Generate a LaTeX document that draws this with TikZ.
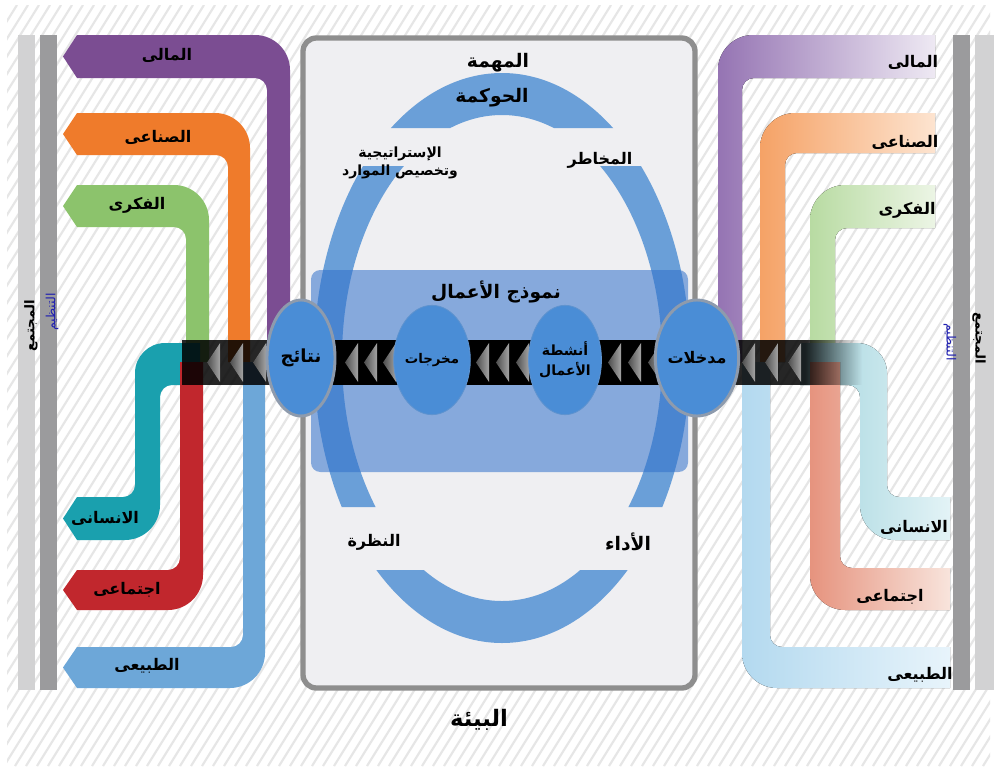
\documentclass[tikz,border=0pt]{standalone}
\usepackage{fontspec}
\setmainfont{DejaVu Sans}
\newfontfamily\arabicfont[Script=Arabic]{DejaVu Sans}
\TeXXeTstate=1
\usetikzlibrary{shapes.geometric,fadings}

% palette
\definecolor{cPurple}{HTML}{7B4D92}
\definecolor{cOrange}{HTML}{EF7B2B}
\definecolor{cGreen}{HTML}{8CC36C}
\definecolor{cTeal}{HTML}{1AA0AE}
\definecolor{cRed}{HTML}{C1272D}
\definecolor{cLBlue}{HTML}{6DA7D8}
\definecolor{rPurpleA}{HTML}{9574B3}
\definecolor{rPurpleB}{HTML}{EEE9F3}
\definecolor{rOrangeA}{HTML}{F5A266}
\definecolor{rOrangeB}{HTML}{FDE4D0}
\definecolor{rGreenA}{HTML}{B8DBA2}
\definecolor{rGreenB}{HTML}{ECF5E5}
\definecolor{rTealA}{HTML}{A3D5DE}
\definecolor{rTealB}{HTML}{E3F3F6}
\definecolor{rSalmonA}{HTML}{E6937E}
\definecolor{rSalmonB}{HTML}{F8E4DC}
\definecolor{rBlueA}{HTML}{B3D9EF}
\definecolor{rBlueB}{HTML}{E8F4FB}
\definecolor{barLight}{HTML}{D2D2D3}
\definecolor{barDark}{HTML}{9B9B9D}
\definecolor{hatchGray}{HTML}{E6E6E6}
\definecolor{boxFill}{HTML}{EFEFF2}
\definecolor{boxEdge}{HTML}{8E8E8E}
\definecolor{cRing}{HTML}{6A9FD8}
\definecolor{cBM}{HTML}{3070CB}
\definecolor{cEll}{HTML}{4A8DD6}
\definecolor{cHalo}{HTML}{8E9BAD}
\definecolor{cEllEdge}{HTML}{5F93CF}
\definecolor{chevDark}{HTML}{4E4E4E}
\definecolor{chevLight}{HTML}{A4A4A4}
\definecolor{orgBlue}{HTML}{2020B0}

\newcommand\RL[1]{\beginR #1\endR}

% ribbon shapes (pixel coordinates, y downwards)
% left-top: tip x, top y, bottom y, vertical left x, vertical right x, end y
\newcommand\ribLT[7]{%
  \fill[#1] (#2,{(#3+#4)/2}) -- ({#2+14},#3) -- ({#6-35},#3)
    .. controls ({#6-15.75},#3) and (#6,{#3+15.75}) .. (#6,{#3+35})
    -- (#6,#7) -- (#5,#7) -- (#5,{#4+12})
    .. controls (#5,{#4+5.4}) and ({#5-5.4},#4) .. ({#5-12},#4)
    -- ({#2+14},#4) -- cycle;}
% left-bottom: tip x, top y, bottom y, vertical left x, vertical right x, start y
\newcommand\ribLB[7]{%
  \fill[#1] (#2,{(#3+#4)/2}) -- ({#2+14},#3) -- ({#5-12},#3)
    .. controls ({#5-5.4},#3) and (#5,{#3-5.4}) .. (#5,{#3-12})
    -- (#5,#7) -- (#6,#7) -- (#6,{#4-35})
    .. controls (#6,{#4-15.75}) and ({#6-15.75},#4) .. ({#6-35},#4)
    -- ({#2+14},#4) -- cycle;}
% right-top: top y, bottom y, vertical left x, vertical right x, end y
\newcommand\ribRT[6]{%
  \fill[#1] (935,#2) -- ({#4+35},#2)
    .. controls ({#4+15.75},#2) and (#4,{#2+15.75}) .. (#4,{#2+35})
    -- (#4,#6) -- (#5,#6) -- (#5,{#3+12})
    .. controls (#5,{#3+5.4}) and ({#5+5.4},#3) .. ({#5+12},#3)
    -- (935,#3) -- cycle;}
% right-bottom: top y, bottom y, vertical left x, vertical right x, start y
\newcommand\ribRB[6]{%
  \fill[#1] (#4,#6) -- (#4,{#3-35})
    .. controls (#4,{#3-15.75}) and ({#4+15.75},#3) .. ({#4+35},#3)
    -- (950,#3) -- (950,#2) -- ({#5+12},#2)
    .. controls ({#5+5.4},#2) and (#5,{#2-5.4}) .. (#5,{#2-12})
    -- (#5,#6) -- cycle;}

\tikzset{
  hatch/.style={draw=hatchGray, line width=1.6pt},
  lbl/.style={font=\arabicfont\bfseries\fontsize{12}{14}\selectfont, inner sep=0pt, text=black},
  ctr/.style={font=\arabicfont\bfseries\fontsize{13}{15}\selectfont, inner sep=0pt, text=black},
  band/.style={fill=black},
  chev/.style={left color=chevDark, right color=chevLight},
  io/.style={ellipse, fill=cEll, draw=cHalo, line width=2.2pt, inner sep=0pt,
    minimum width=51pt, minimum height=87pt},
  act/.style={ellipse, fill=cEll, draw=cEllEdge, line width=0.6pt, inner sep=0pt,
    minimum width=49pt, minimum height=82pt, align=center},
}

\newcommand\chevs[1]{\foreach \b in {#1} {\fill[chev] (\b,343) -- ({\b-13},362.5) -- (\b,382) -- cycle;}}

\begin{document}
\begin{tikzpicture}[x=0.75pt,y=-0.75pt]
\useasboundingbox (0,0) rectangle (994,771);
\fill[white] (0,0) rectangle (994,771);

% striped backdrop
\begin{scope}
  \clip (7,5) rectangle (990,766);
  \foreach \i in {-480,-469,...,990} \draw[hatch] (\i,766) -- ({\i+475},5);
\end{scope}

% society / organisation bars
\fill[barLight] (18,35) rectangle (35,690);
\fill[barDark] (40,35) rectangle (57,690);
\fill[barDark] (953,35) rectangle (970,690);
\fill[barLight] (975,35) rectangle (994,690);

\node[font=\arabicfont\bfseries\fontsize{10}{12}\selectfont, rotate=90, inner sep=0pt] (soc-l) at (31,326) {\RL{المجتمع}};
\node[font=\arabicfont\fontsize{9.5}{11}\selectfont, text=orgBlue, rotate=90, inner sep=0pt] (org-l) at (52,312) {\RL{التنظيم}};
\node[font=\arabicfont\bfseries\fontsize{10}{12}\selectfont, rotate=-90, inner sep=0pt] (soc-r) at (979,338) {\RL{المجتمع}};
\node[font=\arabicfont\fontsize{9.5}{11}\selectfont, text=orgBlue, rotate=-90, inner sep=0pt] (org-r) at (950,342) {\RL{التنظيم}};

% capitals leaving (left)
\ribLT{fill=cPurple}{63}{35}{78}{267}{290}{362}
\ribLT{fill=cOrange}{63}{113}{155}{228}{250}{362}
\ribLT{fill=cGreen}{63}{185}{227}{186}{209}{362}
\fill[cTeal] (200,343) -- (165,343) .. controls (148.5,343) and (135,356.5) .. (135,373)
  -- (135,485) .. controls (135,491.6) and (129.6,497) .. (123,497) -- (77,497)
  -- (63,518.5) -- (77,540) -- (125,540) .. controls (144.25,540) and (160,524.25) .. (160,505)
  -- (160,397) .. controls (160,390.4) and (165.4,385) .. (172,385) -- (200,385) -- cycle;
\ribLB{fill=cRed}{63}{570}{610}{180}{203}{362}
\ribLB{fill=cLBlue}{63}{647}{688}{243}{265}{362}

% capitals entering (right)
\ribRT{left color=rPurpleA, right color=rPurpleB}{35}{78}{718}{742}{362}
\ribRT{left color=rOrangeA, right color=rOrangeB}{113}{153}{760}{785}{362}
\ribRT{left color=rGreenA, right color=rGreenB}{185}{228}{810}{835}{362}
\fill[left color=rTealA, right color=rTealB] (800,343) -- (857,343) .. controls (873.5,343) and (887,356.5) .. (887,373)
  -- (887,485) .. controls (887,491.6) and (892.4,497) .. (899,497) -- (950,497)
  -- (950,540) -- (895,540) .. controls (875.75,540) and (860,524.25) .. (860,505)
  -- (860,397) .. controls (860,390.4) and (854.6,385) .. (848,385) -- (800,385) -- cycle;
\ribRB{left color=rSalmonA, right color=rSalmonB}{568}{610}{810}{840}{362}
\ribRB{left color=rBlueA, right color=rBlueB}{647}{688}{742}{770}{362}

% organisation box
\draw[draw=boxEdge, fill=boxFill, line width=4pt, rounded corners=10pt] (303,38) rectangle (695,688);

% value-creation ring, cut into four arcs
\begin{scope}
  \clip (300,60) rectangle (700,128) (300,166) rectangle (700,507) (300,570) rectangle (700,660);
  \fill[cRing, even odd rule] (502,358) ellipse [x radius=188, y radius=285]
    (502,358) ellipse [x radius=160, y radius=243];
\end{scope}

% business model panel
\fill[cBM, fill opacity=0.55, rounded corners=7pt] (311,270) rectangle (688,472);

% flow band with chevrons
\fill[band, fill opacity=0.85] (182,340) rectangle (270,385);
\fill[band] (330,340) rectangle (405,385);
\fill[band] (460,340) rectangle (535,385);
\fill[band] (595,340) rectangle (668,385);
\fill[band, fill opacity=0.85] (728,340) rectangle (805,385);
\fill[band, fill opacity=0.85, path fading=east] (805,340) rectangle (862,385);
\chevs{220,243,266}
\chevs{358,377,396}
\chevs{489,509,529}
\chevs{621,641,661}
\chevs{755,778,801}

% stages
\node[io, font=\arabicfont\bfseries\fontsize{13.5}{15}\selectfont] (outc) at (301,358) {\RL{نتائج}};
\node[act, font=\arabicfont\bfseries\fontsize{10}{12}\selectfont] (outp) at (432,360) {\RL{مخرجات}};
\node[act, font=\arabicfont\bfseries\fontsize{10.5}{15}\selectfont] (actv) at (565,360) {\RL{أنشطة}\\\RL{الأعمال}};
\node[io, font=\arabicfont\bfseries\fontsize{12}{14}\selectfont] (inp) at (697,358) {\RL{مدخلات}};

% ring and panel labels
\node[ctr, font=\arabicfont\bfseries\fontsize{14}{16}\selectfont] (mission) at (498,63) {\RL{المهمة}};
\node[ctr, font=\arabicfont\bfseries\fontsize{14}{16}\selectfont] (gov) at (492,98) {\RL{الحوكمة}};
\node[ctr, font=\arabicfont\bfseries\fontsize{10.5}{13}\selectfont, align=center] (strat) at (400,163) {\RL{الإستراتيجية}\\\RL{وتخصيص الموارد}};
\node[ctr, font=\arabicfont\bfseries\fontsize{12}{14}\selectfont] (risk) at (600,160) {\RL{المخاطر}};
\node[ctr, font=\arabicfont\bfseries\fontsize{14}{16}\selectfont] (bm) at (496,292) {\RL{نموذج الأعمال}};
\node[ctr, font=\arabicfont\bfseries\fontsize{12}{14}\selectfont] (outlook) at (374,542) {\RL{النظرة}};
\node[ctr, font=\arabicfont\bfseries\fontsize{14}{16}\selectfont] (perf) at (628,542) {\RL{الأداء}};
\node[ctr, font=\arabicfont\bfseries\fontsize{17}{19}\selectfont] (env) at (479,720) {\RL{البيئة}};

% capital labels, left
\node[lbl] (fin-l) at (167,55) {\RL{المالى}};
\node[lbl] (man-l) at (158,137) {\RL{الصناعى}};
\node[lbl] (int-l) at (137,205) {\RL{الفكرى}};
\node[lbl] (hum-l) at (105,518) {\RL{الانسانى}};
\node[lbl] (soc-cap-l) at (127,590) {\RL{اجتماعى}};
\node[lbl] (nat-l) at (147,666) {\RL{الطبيعى}};

% capital labels, right
\node[lbl] (fin-r) at (913,62) {\RL{المالى}};
\node[lbl] (man-r) at (905,142) {\RL{الصناعى}};
\node[lbl] (int-r) at (907,210) {\RL{الفكرى}};
\node[lbl] (hum-r) at (914,527) {\RL{الانسانى}};
\node[lbl] (soc-cap-r) at (890,597) {\RL{اجتماعى}};
\node[lbl] (nat-r) at (920,675) {\RL{الطبيعى}};
\end{tikzpicture}
\end{document}
